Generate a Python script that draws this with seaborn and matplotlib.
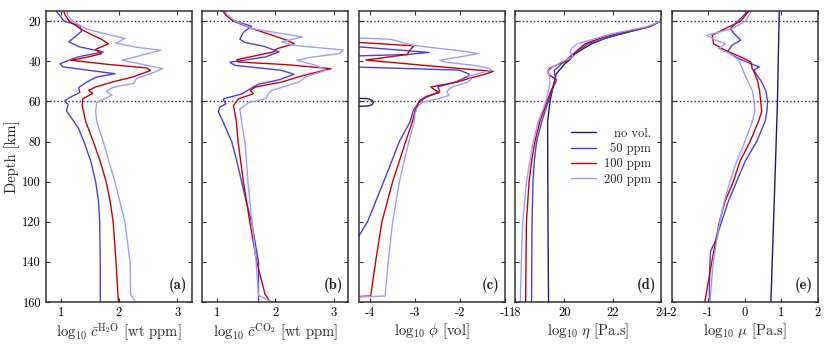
import numpy as np
import pandas as pd
import matplotlib
matplotlib.use('Agg')
import matplotlib.pyplot as plt
import seaborn as sb

# --- data (depth in km, values in log10) ---
labels = ['no vol.', '50 ppm', '100 ppm', '200 ppm']
colors = ['#1c1c78', '#4b3fe3', '#cc0000', '#9c9eff']

# (a) H2O
h2o_50_z = [14, 17, 20, 22.3, 25, 27, 30.3, 32.8, 35.3, 37.8, 41.2, 42.8, 46.2, 47.8, 50.3, 53.1, 55.6, 58.1, 59.8, 61.4, 64.7, 67.2, 73, 80, 90, 100, 110, 120, 140, 160]
h2o_50 = [0.9, 0.98, 1.06, 1.33, 1.36, 1.28, 1.14, 1.32, 1.73, 1.3, 0.99, 1.04, 1.93, 1.62, 1.45, 1.31, 1.33, 1.15, 1.07, 1.13, 1.1, 1.16, 1.3, 1.4, 1.52, 1.6, 1.65, 1.67, 1.68, 1.68]
h2o_100_z = [14, 17, 20, 24.5, 27, 29, 31.3, 34, 36.2, 38, 39.5, 41.5, 43.3, 44.6, 47.8, 50.3, 52.8, 54.5, 56, 58.7, 62, 70, 80, 90, 100, 110, 120, 140, 160]
h2o_100 = [1.04, 1.08, 1.15, 1.38, 1.55, 1.7, 1.82, 1.6, 1.7, 1.45, 1.18, 1.8, 2.47, 2.54, 2.24, 1.89, 1.6, 1.48, 1.55, 1.38, 1.37, 1.43, 1.56, 1.68, 1.78, 1.85, 1.9, 1.95, 1.99]
h2o_200_z = [14, 17, 20, 24, 26.5, 28.6, 31, 33, 34.5, 36.5, 39.5, 41.5, 43.6, 45.5, 48.6, 51, 53, 55, 57, 59, 60.5, 65, 70, 80, 100, 120, 140, 156, 160]
h2o_200 = [1.1, 1.12, 1.2, 1.45, 1.8, 2.1, 1.95, 2.3, 2.72, 2.45, 2.05, 2.4, 2.75, 2.6, 2.3, 2.25, 1.9, 1.78, 1.88, 1.72, 1.62, 1.6, 1.62, 1.73, 1.93, 2.1, 2.19, 2.2, 2.28]

# (b) CO2
co2_50_z = [14, 17, 20, 22.5, 25.6, 29, 30.6, 32.5, 35.3, 37.8, 40.5, 42, 44.5, 46.5, 49.3, 51.5, 54, 56.2, 58.7, 60, 61.2, 62.8, 65, 70, 80, 90, 100, 110, 120, 140, 160]
co2_50 = [1.08, 1.15, 1.31, 1.59, 1.45, 1.39, 1.48, 1.8, 2.06, 1.83, 1.22, 1.3, 2.1, 2.32, 2.05, 1.7, 1.55, 1.43, 1.11, 1.12, 1.15, 1.05, 1.02, 1.1, 1.25, 1.34, 1.42, 1.5, 1.59, 1.71, 1.71]
co2_100_z = [14, 17, 20, 23.7, 27, 29.5, 31.2, 33.7, 35.3, 39.2, 40.3, 41.7, 43.7, 47.2, 50.3, 52.8, 54.5, 56.2, 58.7, 62, 65, 70, 80, 100, 120, 140, 156, 160]
co2_100 = [1.08, 1.15, 1.28, 1.6, 1.94, 2.2, 2.32, 2.03, 1.97, 1.34, 1.36, 2.2, 2.95, 2.46, 2.11, 1.66, 1.57, 1.62, 1.37, 1.28, 1.3, 1.33, 1.36, 1.45, 1.56, 1.68, 1.82, 1.91]
co2_200_z = [14, 17, 20, 23.7, 26, 27.8, 29, 30.3, 32, 34.4, 36.2, 38, 39.5, 42, 44.5, 47.8, 50.3, 54.5, 56, 58.7, 60.5, 63.7, 70.3, 80.8, 100.7, 120.6, 140.6, 156.7, 160]
co2_200 = [1.11, 1.18, 1.31, 1.6, 2.06, 2.46, 2.3, 2.11, 2.3, 3.16, 3.09, 2.6, 2.37, 2.69, 2.86, 2.52, 2.4, 1.94, 1.88, 1.83, 1.55, 1.39, 1.42, 1.48, 1.53, 1.6, 1.67, 1.71, 1.95]

# (c) melt fraction phi (-5 = no melt, off the axis)
phi_0_z = [58.0, 58.6, 59.5, 60.5, 61.6, 62.3, 62.8]
phi_0 = [-5, -4.05, -3.95, -3.93, -3.96, -4.05, -5]
phi_50_z = [32.6, 32.8, 35.6, 36.6, 37.3, 37.6, 42.6, 42.9, 44.4, 46.3, 47.5, 50.3, 52.8, 54.5, 56, 58.5, 61, 64.4, 70, 80, 100, 110, 120, 127, 130]
phi_50 = [-5, -4.25, -2.69, -3.17, -4.25, -5, -5, -4.25, -2.02, -1.8, -1.82, -2.1, -2.5, -2.45, -2.55, -2.8, -2.93, -3.04, -3.11, -3.35, -3.7, -3.88, -4.06, -4.25, -5]
phi_100_z = [30.4, 30.6, 32.3, 33.5, 35.5, 36.6, 39.4, 43.6, 45, 46.5, 48.5, 50.3, 52.8, 54.5, 55.5, 57.5, 59.5, 62, 64.4, 70, 80, 100, 120, 140, 157, 157.8]
phi_100 = [-5, -4.25, -3.03, -3.08, -3.15, -3.17, -4.1, -2.02, -1.26, -1.45, -1.8, -2.05, -2.65, -2.55, -2.45, -2.75, -2.9, -2.95, -3.0, -3.06, -3.21, -3.5, -3.74, -3.88, -3.99, -5]
phi_200_z = [28.2, 28.4, 29.0, 30.5, 32, 33.5, 35, 36.2, 37.2, 39.5, 40.5, 42, 43.5, 44.5, 45.8, 47.5, 49, 50.5, 53, 55, 57, 58.5, 60.5, 63, 66, 70, 80, 100, 120, 140, 157, 158]
phi_200 = [-5, -4.25, -3.55, -3.3, -3.05, -2.5, -1.9, -1.6, -1.85, -2.45, -2.3, -1.7, -1.35, -1.3, -1.55, -1.82, -1.75, -1.85, -2.2, -2.3, -2.25, -2.45, -2.85, -2.95, -3.0, -3.02, -3.14, -3.35, -3.5, -3.6, -3.67, -5]

# (d) viscosity eta
eta_0_z = [14, 20, 22.8, 26.2, 28.5, 31.2, 34, 36.2, 39.5, 41.2, 46.2, 52.8, 60, 70, 100, 130, 160]
eta_0 = [24.1, 23.97, 23.5, 22.4, 21.7, 21.15, 20.75, 20.45, 20.2, 20.03, 19.68, 19.54, 19.42, 19.32, 19.33, 19.34, 19.36]
eta_50_z = [14, 20, 22.8, 26.2, 31.2, 36.2, 41.2, 44.5, 47, 49.5, 54.5, 60, 70, 80, 90, 100, 120, 160]
eta_50 = [24.1, 23.97, 23.5, 22.3, 21.0, 20.38, 19.9, 19.6, 19.62, 19.68, 19.5, 19.35, 19.08, 18.87, 18.77, 18.72, 18.68, 18.66]
eta_100_z = [14, 20, 22.8, 26.2, 28.7, 31.2, 34, 37, 39.5, 41.2, 43.5, 45.3, 47, 48.5, 51.2, 55, 60, 70, 80, 90, 100, 120, 140, 160]
eta_100 = [24.1, 23.97, 23.45, 22.14, 21.44, 20.87, 20.6, 20.35, 20.2, 19.8, 19.4, 19.32, 19.4, 19.62, 19.6, 19.45, 19.3, 19.0, 18.8, 18.66, 18.56, 18.45, 18.43, 18.42]
eta_200_z = [14, 20, 22.8, 26.2, 31.2, 33.7, 35.3, 37.8, 40.3, 42.8, 45.3, 47.8, 50.3, 54.5, 60, 70, 80, 100, 120, 140, 160]
eta_200 = [24.1, 23.97, 23.4, 22.0, 20.55, 20.3, 20.24, 20.38, 19.9, 19.54, 19.32, 19.4, 19.42, 19.35, 19.25, 18.94, 18.73, 18.45, 18.3, 18.24, 18.2]

# (e) melt viscosity mu
mu_0_z = [14, 60, 100, 160]
mu_0 = [0.94, 0.89, 0.82, 0.71]
mu_50_z = [14, 17, 21.2, 23.7, 26.2, 29.5, 32, 35.3, 38.7, 41.2, 42.8, 44.3, 46.2, 49.5, 54.5, 60, 65, 70, 80, 90, 100, 110, 120, 130, 134.5, 140, 160]
mu_50 = [0.11, -0.03, -0.26, -0.4, -0.3, -0.12, -0.35, -0.49, -0.17, 0.16, 0.39, 0.25, 0.3, 0.43, 0.57, 0.62, 0.6, 0.55, 0.32, 0.0, -0.23, -0.46, -0.64, -0.82, -0.94, -0.96, -0.98]
mu_100_z = [14, 20, 24.5, 27, 31.2, 33.7, 35.3, 37.8, 40.3, 43.7, 45.3, 49.5, 54.5, 60, 65, 70, 80, 90, 100, 110, 120, 140, 160]
mu_100 = [0.15, -0.12, -0.63, -0.9, -0.86, -0.63, -0.44, -0.12, 0.16, 0.2, 0.25, 0.34, 0.4, 0.43, 0.46, 0.37, 0.14, -0.14, -0.32, -0.55, -0.7, -0.91, -1.1]
mu_200_z = [14, 20, 23.7, 27, 29.5, 31.2, 33.7, 36.2, 39.5, 43.7, 47.8, 54.5, 60, 65, 70, 80, 90, 100, 110, 120, 140, 160]
mu_200 = [0.2, 0.02, -0.35, -1.04, -0.8, -0.53, -0.72, -0.4, -0.17, -0.07, 0.02, 0.2, 0.25, 0.27, 0.2, 0.0, -0.23, -0.41, -0.57, -0.69, -0.87, -0.96]

panels = [
    [None, (h2o_50_z, h2o_50), (h2o_100_z, h2o_100), (h2o_200_z, h2o_200)],
    [None, (co2_50_z, co2_50), (co2_100_z, co2_100), (co2_200_z, co2_200)],
    [(phi_0_z, phi_0), (phi_50_z, phi_50), (phi_100_z, phi_100), (phi_200_z, phi_200)],
    [(eta_0_z, eta_0), (eta_50_z, eta_50), (eta_100_z, eta_100), (eta_200_z, eta_200)],
    [(mu_0_z, mu_0), (mu_50_z, mu_50), (mu_100_z, mu_100), (mu_200_z, mu_200)],
]
xlabels = [r'$\log_{10}\,\bar{c}^{\mathrm{H_2O}}$ [wt ppm]',
           r'$\log_{10}\,\bar{c}^{\mathrm{CO_2}}$ [wt ppm]',
           r'$\log_{10}\,\phi$ [vol]',
           r'$\log_{10}\,\eta$ [Pa.s]',
           r'$\log_{10}\,\mu$ [Pa.s]']
xlims = [(0.75, 3.25), (0.75, 3.25), (-4.25, -1), (18, 24), (-2, 2)]
xticks = [[1, 2, 3], [1, 2, 3], [-4, -3, -2, -1], [18, 20, 22, 24], [-2, -1, 0, 1, 2]]
tags = ['(a)', '(b)', '(c)', '(d)', '(e)']
depth_ticks = [20, 40, 60, 80, 100, 120, 140, 160]

# --- style ---
sb.set_style('ticks', {'xtick.direction': 'in', 'ytick.direction': 'in',
                       'axes.edgecolor': '#333333'})
plt.rcParams['font.family'] = 'serif'
plt.rcParams['font.serif'] = ['cmr10', 'DejaVu Serif']
plt.rcParams['mathtext.fontset'] = 'cm'
plt.rcParams['axes.unicode_minus'] = False
plt.rcParams['axes.formatter.use_mathtext'] = True
plt.rcParams['xtick.top'] = True
plt.rcParams['ytick.right'] = True
plt.rcParams['xtick.major.size'] = 3
plt.rcParams['ytick.major.size'] = 3
plt.rcParams['axes.linewidth'] = 1.1

fig, axes = plt.subplots(1, 5, figsize=(8.3, 3.48), dpi=100, sharey=True)
fig.subplots_adjust(left=0.0554, right=0.9855, bottom=0.132, top=0.968, wspace=0.072)

for i, ax in enumerate(axes):
    for k, series in enumerate(panels[i]):
        if series is None:
            continue
        z, v = series
        sb.lineplot(x=v, y=z, orient='y', sort=False, estimator=None,
                    color=colors[k], lw=1.0, ax=ax, label=labels[k])
    for d in (20, 60):
        ax.axhline(d, color='#22228a', ls=':', lw=1.0, zorder=0)
    ax.set_xlim(*xlims[i])
    ax.set_ylim(160, 15)
    ax.set_xticks(xticks[i])
    ax.set_xticklabels([str(t) for t in xticks[i]], fontsize=9)
    ax.set_yticks(depth_ticks)
    ax.set_xlabel(xlabels[i], fontsize=10.5, labelpad=2)
    ax.tick_params(colors='#333333', labelcolor='black', width=0.8)
    # panel tag, bold Computer Modern
    ax.text(0.965, 0.03, tags[i], transform=ax.transAxes, family='cmb10',
            ha='right', va='bottom', fontsize=10.5)
    if ax.get_legend() is not None:
        ax.get_legend().remove()

axes[0].set_yticklabels([str(t) for t in depth_ticks], fontsize=9)
axes[0].set_ylabel('Depth [km]', fontsize=10.5, labelpad=2)

# legend in panel (d), labels right-aligned
h, l = axes[3].get_legend_handles_labels()
leg = axes[3].legend(h, l, loc='center', bbox_to_anchor=(0.655, 0.50), frameon=False,
                     fontsize=9, handlelength=2.0, handletextpad=0.6, labelspacing=0.25)
fig.canvas.draw()
widths = [t.get_window_extent().width for t in leg.get_texts()]
wmax = max(widths)
for t, w in zip(leg.get_texts(), widths):
    t.set_position((wmax - w, 0))

fig.savefig('out.png', dpi=100)
